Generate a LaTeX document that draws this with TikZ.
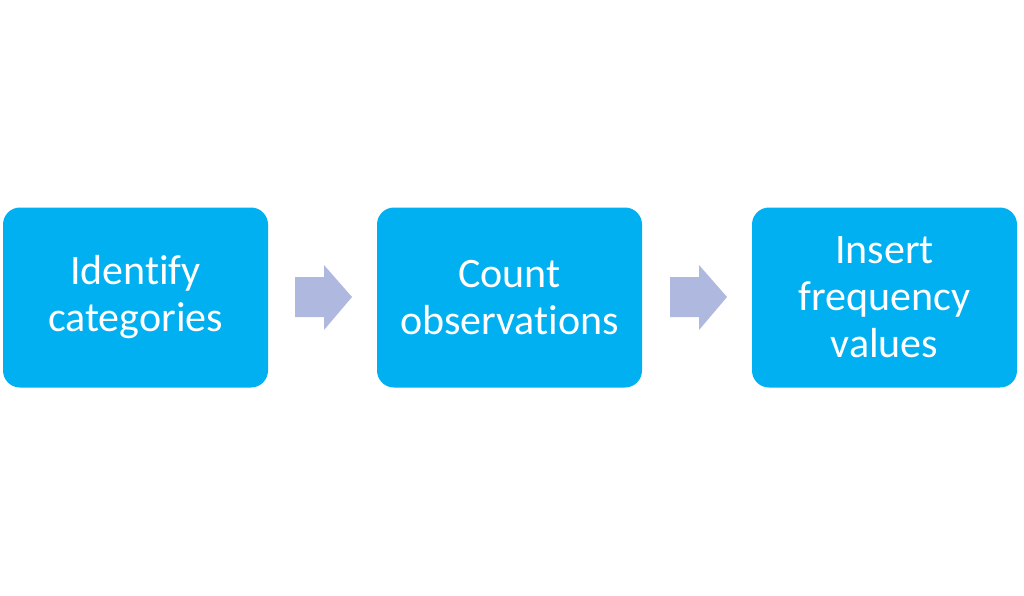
\documentclass[tikz,border=0pt]{standalone}
\usepackage{fontspec}
\setmainfont[Ligatures=NoCommon]{Carlito}
\definecolor{boxblue}{HTML}{00B0F0}
\definecolor{arrowlav}{HTML}{AFB8DE}
\begin{document}
\begin{tikzpicture}[x=1pt,y=-1pt,
  stepbox/.style={fill=boxblue, rounded corners=17pt, minimum width=265pt, minimum height=180pt,
    text=white, align=center, inner sep=0pt, font=\fontsize{42}{47}\selectfont},
  blockarrow/.style={fill=arrowlav, draw=none}]
\useasboundingbox (0,0) rectangle (1024,595);
\node[stepbox] (b1) at (135.5,297.5) {Identify\\categories};
\node[stepbox] (b2) at (509.5,297.5) {Count\\observations};
\node[stepbox] (b3) at (884.5,297.5) {Insert\\frequency\\values};
\coordinate (a1) at (295,297);
\coordinate (a2) at (670,297);
\foreach \a in {a1,a2}{
  \fill[blockarrow] (\a) ++(0,-20) -- ++(29,0) -- ++(0,-12) -- ++(28,32) -- ++(-28,33) -- ++(0,-13) -- ++(-29,0) -- cycle;
}
\end{tikzpicture}
\end{document}
